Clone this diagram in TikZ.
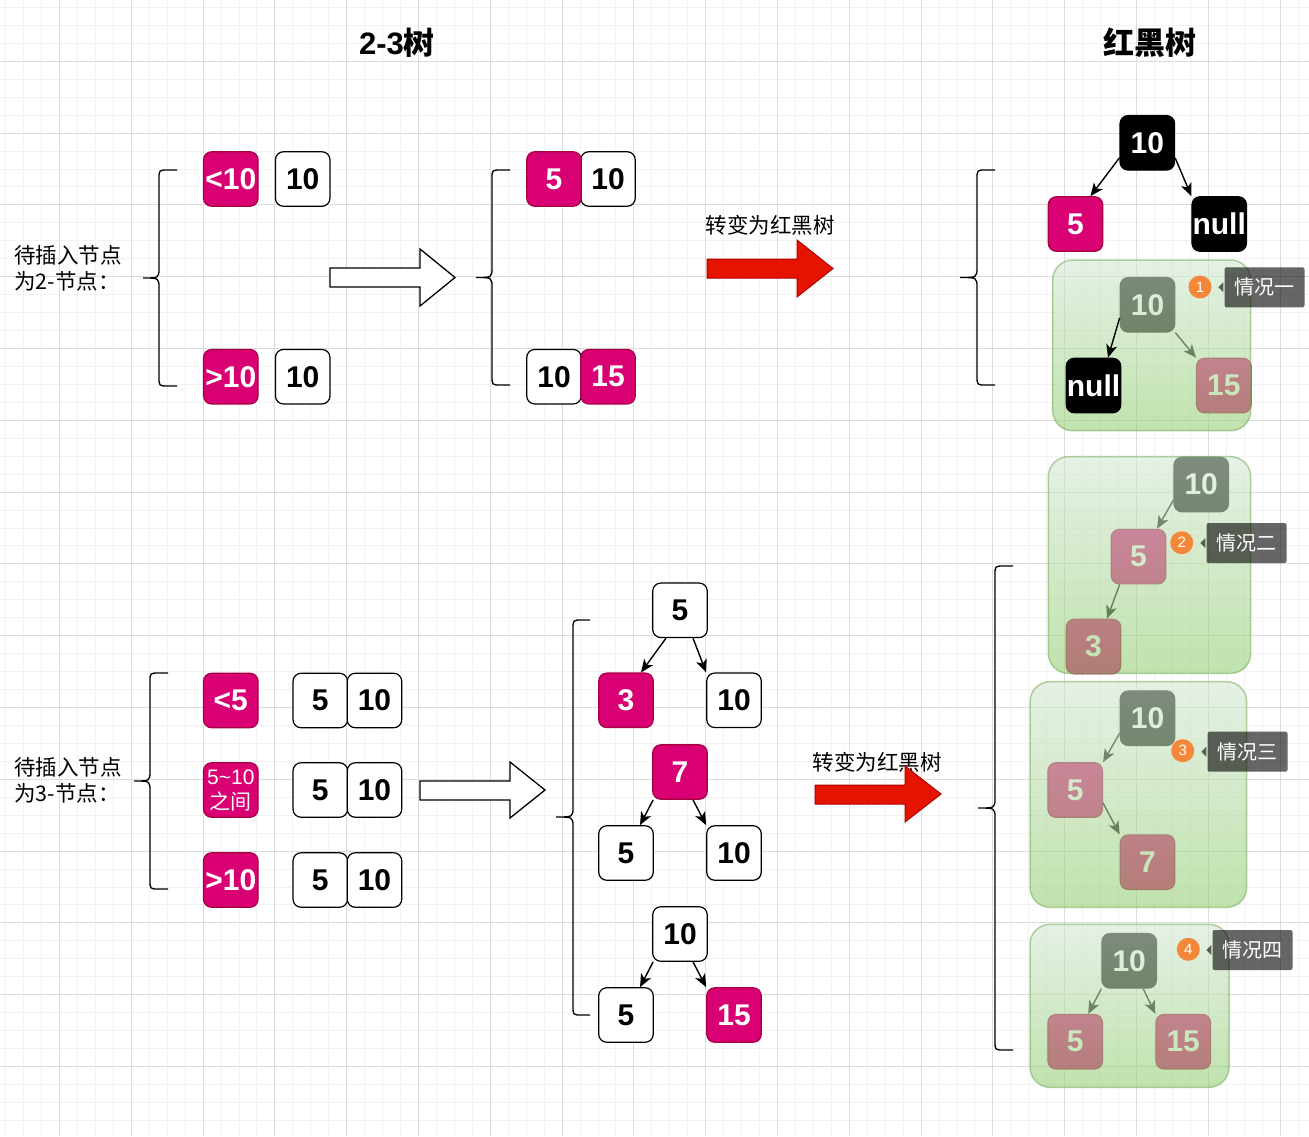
\documentclass[tikz,border=0pt]{standalone}
\usepackage{fontspec}
\setmainfont{Liberation Sans}
\newfontfamily\cjk{Noto Sans CJK SC}
\usetikzlibrary{arrows.meta,calc}
\definecolor{pinkF}{HTML}{D80073}
\definecolor{pinkS}{HTML}{A50040}
\definecolor{gridMinor}{HTML}{F2F2F2}
\definecolor{gridMajor}{HTML}{DCDCDC}
\definecolor{redF}{HTML}{E51400}
\definecolor{redS}{HTML}{B20000}
\definecolor{grpA}{HTML}{D5E8D4}
\definecolor{grpB}{HTML}{97D077}
\definecolor{grpS}{HTML}{82B366}
\definecolor{badgeC}{HTML}{F5873A}
\newcommand\numf{\fontsize{30}{32}\selectfont\bfseries}
\newcommand\mybrace[6]{%
  \draw[brc] (#3,#4) -- ({#2+9},#4) .. controls (#2,#4) .. (#2,{#4+9}) -- (#2,{#6-10})
    .. controls (#2,#6) .. (#1,#6) .. controls (#2,#6) .. (#2,{#6+10}) -- (#2,{#5-9})
    .. controls (#2,#5) .. ({#2+9},#5) -- (#3,#5);}
\newcommand\mytip[1]{%
  \fill[black,fill opacity=0.6] ([xshift=-1,yshift=5]#1.west) -- ([xshift=-6]#1.west) -- ([xshift=-1,yshift=-5]#1.west) -- cycle;}
\begin{document}
\begin{tikzpicture}[x=1pt,y=-1pt,
  box/.style={rounded corners=8, minimum width=54.5, minimum height=54.5, inner sep=0, font=\numf, line width=1.2},
  wbox/.style={box, draw=black, fill=white, text=black},
  pbox/.style={box, draw=pinkS, fill=pinkF, text=white},
  kbox/.style={box, draw=black, fill=black, text=white},
  edge/.style={-{Stealth[length=13,width=11,inset=3.5]}, line width=1.4},
  brc/.style={line width=1.3},
  grp/.style={rounded corners=20, draw=grpS, line width=1.5, top color=grpA, bottom color=grpB, opacity=0.6},
  badgec/.style={circle, fill=badgeC, text=white, minimum size=23, inner sep=0, font=\fontsize{15}{17}\selectfont},
  tipbox/.style={rounded corners=2, fill=black, fill opacity=0.6, text opacity=1, text=white, minimum width=80, minimum height=40, inner sep=0, font=\cjk\fontsize{20}{24}\selectfont},
  lbl/.style={align=left, inner sep=0, font=\cjk\fontsize{21.5}{25.5}\selectfont},
  hollow/.style={draw=black, fill=white, line width=1.3},
  redarr/.style={draw=redS, fill=redF, line width=1}]
\useasboundingbox (0,0) rectangle (1309,1136);
\fill[white] (0,0) rectangle (1309,1136);
% grid
\foreach \i in {0,...,72} \draw[gridMinor, line width=1] ({5.65+\i*17.95},0) -- ({5.65+\i*17.95},1136);
\foreach \j in {0,...,62} \draw[gridMinor, line width=1] (0,{7.45+\j*17.95}) -- (1309,{7.45+\j*17.95});
\foreach \i in {0,...,17} \draw[gridMajor, line width=0.9] ({59.5+\i*71.8},0) -- ({59.5+\i*71.8},1136);
\foreach \j in {0,...,14} \draw[gridMajor, line width=0.9] (0,{61.3+\j*71.8}) -- (1309,{61.3+\j*71.8});

% titles
\node[inner sep=0] (title1) at (397,43) {\fontsize{31}{34}\selectfont\bfseries 2-3{\cjk\bfseries 树}};
\node[inner sep=0] (title2) at (1150,43) {\cjk\fontsize{31}{34}\selectfont\bfseries 红黑树};

% left labels
\node[lbl, anchor=west] (lab1) at (14,268.5) {待插入节点\\为2-节点：};
\node[lbl, anchor=west] (lab2) at (14,780.5) {待插入节点\\为3-节点：};

% braces
\mybrace{143}{159}{177}{170}{386}{278}
\mybrace{476}{492}{510}{170}{385}{277.5}
\mybrace{960}{977}{995}{170}{385}{277.5}
\mybrace{134}{150}{168}{673}{889}{781}
\mybrace{556}{573}{590}{620}{1015}{817}
\mybrace{978}{995}{1013}{566}{1050}{808}

% top-left nodes
\node[pbox] (a1) at (230.8,179) {<10};
\node[wbox] (a2) at (302.7,179) {10};
\node[pbox] (a3) at (230.8,376.7) {>10};
\node[wbox] (a4) at (302.7,376.7) {10};

% top hollow arrow
\draw[hollow] (330,268) -- (420,268) -- (420,249) -- (455,277.5) -- (420,306) -- (420,287) -- (330,287) -- cycle;

% top-middle nodes
\node[wbox] (b2) at (608,179) {10};
\node[pbox] (b1) at (554,179) {5};
\node[wbox] (b3) at (554,376.7) {10};
\node[pbox] (b4) at (608,376.7) {15};

% top red arrow
\node[lbl, anchor=center, align=center] (conv1) at (770,225) {转变为红黑树};
\draw[redarr] (707,259) -- (797,259) -- (797,240) -- (833,268.5) -- (797,297) -- (797,278) -- (707,278) -- cycle;

% top RB tree
\node[kbox] (r1) at (1147.3,142.8) {10};
\node[pbox] (r2) at (1075.5,224) {5};
\node[kbox] (r3) at (1219.2,224) {null};
\draw[edge] ([yshift=-15]r1.west) -- ([xshift=15]r2.north);
\draw[edge] ([yshift=-15]r1.east) -- (r3.north west);

% group 1 (under)
\node[kbox] (g1a) at (1147.5,304.8) {10};
\node[pbox] (g1c) at (1223.8,385.5) {15};
\draw[edge] (g1a.south east) -- (g1c.north west);
% group 2 (under)
\node[kbox] (g2a) at (1201.2,484.5) {10};
\node[pbox] (g2b) at (1138.5,556.6) {5};
\node[pbox] (g2c) at (1093.5,646.5) {3};
\draw[edge] ([yshift=-15.5]g2a.west) -- ([xshift=18.5]g2b.north);
\draw[edge] ([xshift=9]g2b.south west) -- ([xshift=13.5]g2c.north);
% group 3 (under)
\node[kbox] (g3a) at (1147.5,718.2) {10};
\node[pbox] (g3b) at (1075.2,790) {5};
\node[pbox] (g3c) at (1147.5,862.2) {7};
\draw[edge] ([yshift=-15]g3a.west) -- (g3b.north east);
\draw[edge] ([yshift=-13]g3b.east) -- (g3c.north west);
% group 4 (under)
\node[kbox] (g4a) at (1129.2,960.8) {10};
\node[pbox] (g4b) at (1075.2,1041.7) {5};
\node[pbox] (g4c) at (1183.2,1041.7) {15};
\draw[edge] (g4a.south west) -- ([xshift=13]g4b.north);
\draw[edge] ([xshift=14]g4a.south) -- (g4c.north west);

% group overlays
\path[grp] (1052.7,260) rectangle (1250.7,430.7);
\path[grp] (1048.3,456.7) rectangle (1250.7,673.3);
\path[grp] (1030,681.7) rectangle (1246.7,907.3);
\path[grp] (1030,924.3) rectangle (1229,1087.3);

% group 1 on top
\node[kbox] (g1b) at (1093.5,385.5) {null};
\draw[edge] ([yshift=-13]g1a.west) -- ([xshift=14.5]g1b.north);

% badges and tooltips
\node[badgec] (n1) at (1200,287) {1};
\node[tipbox] (q1) at (1264.5,287.3) {情况一};
\mytip{q1}
\node[badgec] (n2) at (1181.7,542.7) {2};
\node[tipbox] (q2) at (1246.5,543) {情况二};
\mytip{q2}
\node[badgec] (n3) at (1182.7,750.7) {3};
\node[tipbox] (q3) at (1247.5,751.7) {情况三};
\mytip{q3}
\node[badgec] (n4) at (1188.3,949.3) {4};
\node[tipbox] (q4) at (1252.5,950) {情况四};
\mytip{q4}

% bottom-left nodes
\node[pbox] (c1) at (230.8,700.5) {<5};
\node[pbox, font=\fontsize{21}{25}\selectfont, align=center] (c2) at (230.8,790) {5\textasciitilde10\\{\cjk 之间}};
\node[pbox] (c3) at (230.8,880) {>10};
\node[wbox] (c4) at (320.3,700.5) {5};
\node[wbox] (c5) at (374.5,700.5) {10};
\node[wbox] (c6) at (320.3,790) {5};
\node[wbox] (c7) at (374.5,790) {10};
\node[wbox] (c8) at (320.3,880) {5};
\node[wbox] (c9) at (374.5,880) {10};

% bottom hollow arrow
\draw[hollow] (420,781) -- (510,781) -- (510,762) -- (545,790) -- (510,818) -- (510,800) -- (420,800) -- cycle;

% bottom trees
\node[wbox] (t1) at (680,610.3) {5};
\node[pbox] (t2) at (626,700.3) {3};
\node[wbox] (t3) at (734,700.3) {10};
\draw[edge] ([xshift=-14]t1.south) -- ([xshift=15]t2.north);
\draw[edge] ([xshift=13]t1.south) -- (t3.north west);
\node[pbox] (t4) at (680,772) {7};
\node[wbox] (t5) at (626,853) {5};
\node[wbox] (t6) at (734,853) {10};
\draw[edge] ([xshift=1]t4.south west) -- ([xshift=14]t5.north);
\draw[edge] ([xshift=13]t4.south) -- (t6.north west);
\node[wbox] (t7) at (680,934) {10};
\node[wbox] (t8) at (626,1015) {5};
\node[pbox] (t9) at (734,1015) {15};
\draw[edge] ([xshift=1]t7.south west) -- ([xshift=14]t8.north);
\draw[edge] ([xshift=13]t7.south) -- (t9.north west);

% bottom red arrow
\node[lbl, anchor=center, align=center] (conv2) at (877,762) {转变为红黑树};
\draw[redarr] (815,785) -- (905,785) -- (905,766) -- (941,794) -- (905,822) -- (905,804) -- (815,804) -- cycle;
\end{tikzpicture}
\end{document}
